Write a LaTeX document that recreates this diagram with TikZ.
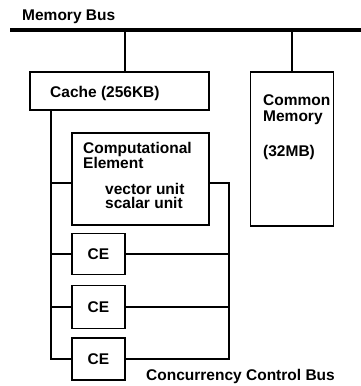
\documentclass[tikz,border=0pt]{standalone}
\usepackage{fontspec}
\setmainfont{Liberation Sans}
\begin{document}
\begin{tikzpicture}[x=1pt, y=-1pt, every node/.style={font=\fontsize{15.5}{16}\selectfont\bfseries}]
  \tikzstyle{box}=[draw,line width=1.6pt,inner sep=0pt]
  \tikzstyle{wire}=[line width=1.6pt]
  \tikzstyle{txt}=[anchor=west,inner sep=0pt,text height=11pt,text depth=3pt]
  \useasboundingbox (0,0) rectangle (361,386);
  % memory bus
  \node[txt] (mbus) at (22,16) {Memory Bus};
  \coordinate (busL) at (10,30);
  \coordinate (busR) at (361,30);
  \draw[line width=3.2pt] (busL) -- (busR);
  % cache and common memory
  \node[box,minimum width=179pt,minimum height=38pt] (cache) at (119.5,91) {};
  \node[txt] (cachetxt) at (50,93) {Cache (256KB)};
  \node[box,minimum width=83pt,minimum height=154pt] (cmem) at (292,149) {};
  \node[txt] (cmemA) at (263,101) {Common};
  \node[txt] (cmemB) at (263,117) {Memory};
  \node[txt] (cmemC) at (263,152) {(32MB)};
  \coordinate (tap) at (125,30);
  \draw[wire] (tap) -- (tap |- cache.north);
  \draw[wire] (busL -| cmem.north) -- (cmem.north);
  % computational elements
  \node[box,minimum width=137pt,minimum height=92pt] (ce0) at (140.5,179) {};
  \node[txt] (ceA) at (83,149) {Computational};
  \node[txt] (ceB) at (83,164) {Element};
  \node[txt] (ceC) at (105,190) {vector unit};
  \node[txt] (ceD) at (105,204) {scalar unit};
  \node[box,minimum width=53pt,minimum height=41pt] (ce1) at (98.5,254) {CE};
  \node[box,minimum width=53pt,minimum height=43pt] (ce2) at (98.5,307) {CE};
  \node[box,minimum width=53pt,minimum height=42pt] (ce3) at (98.5,359) {CE};
  % concurrency control bus
  \coordinate (lrail) at (51,110);
  \coordinate (rrail) at (229,183);
  \draw[wire] (lrail) |- (ce3.west);
  \draw[wire] (lrail |- rrail) -- (rrail -| ce0.west);
  \draw[wire] (rrail -| ce0.east) -- (rrail) |- (ce3.east);
  \foreach \n in {1,2} {
    \draw[wire] (lrail |- ce\n.west) -- (ce\n.west);
    \draw[wire] (ce\n.east) -- (ce\n.east -| rrail);
  }
  \node[txt] (ccbus) at (146,376) {Concurrency Control Bus};
\end{tikzpicture}
\end{document}
